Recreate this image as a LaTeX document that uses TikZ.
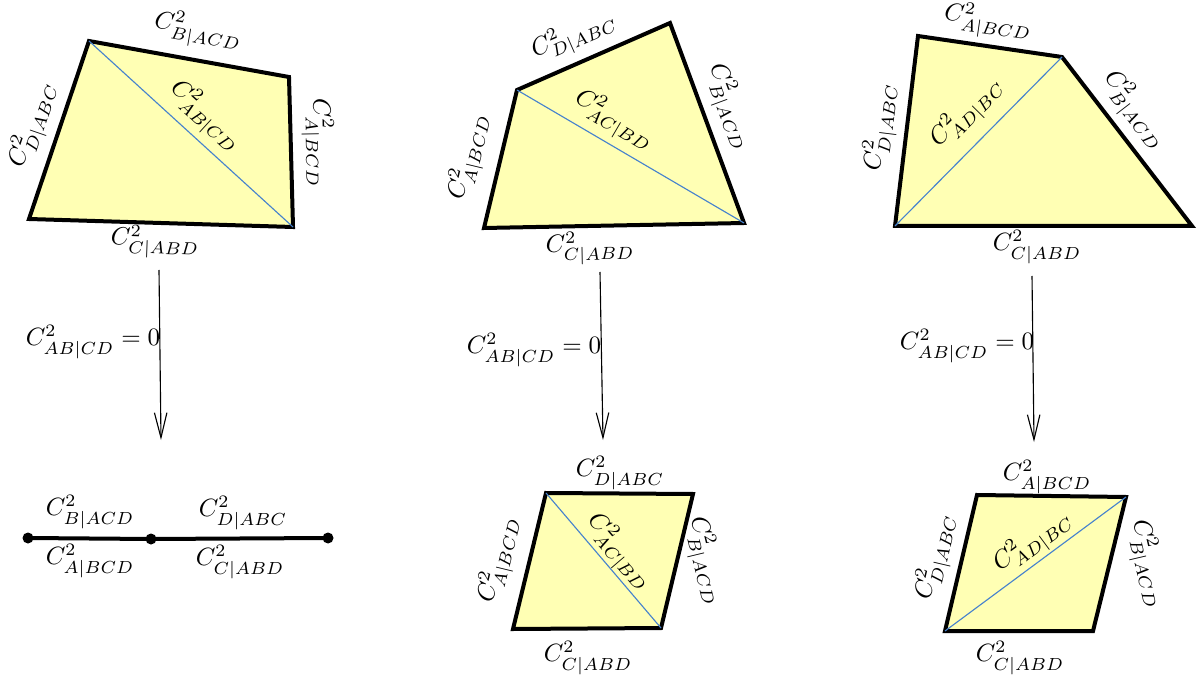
\documentclass[tikz,border=0pt]{standalone}
\usetikzlibrary{arrows.meta}
\definecolor{facefill}{RGB}{255,255,180}
\definecolor{diagblue}{RGB}{70,130,205}
\tikzset{
  face/.style={fill=facefill,draw=black,line width=1.6pt,line join=miter},
  diag/.style={draw=diagblue,line width=0.45pt},
  lbl/.style={inner sep=1pt},
  downarrow/.style={draw=black,line width=0.45pt,-{Straight Barb[length=10pt,width=5pt]}},
  segline/.style={draw=black,line width=1.6pt},
  dot/.style={circle,fill=black,inner sep=0pt,minimum size=4.4pt}
}
\begin{document}
\begin{tikzpicture}[x=0.4pt,y=-0.4pt]
\useasboundingbox (0,0) rectangle (1198,678);
% ---------- top left ----------
\coordinate (La) at (89,41);
\coordinate (Lb) at (289,77);
\coordinate (Lc) at (293,227);
\coordinate (Ld) at (29,219);
\path[face] (La) -- (Lb) -- (Lc) -- (Ld) -- cycle;
\draw[diag] (La) -- (Lc);
\node[lbl,rotate=-10] (L1) at (198,31) {$C^2_{B|ACD}$};
\node[lbl,rotate=71] (L2) at (33,125) {$C^2_{D|ABC}$};
\node[lbl,rotate=-89] (L3) at (318,143) {$C^2_{A|BCD}$};
\node[lbl,rotate=-42.5] (L4) at (205,116) {$C^2_{AB|CD}$};
\node[lbl,rotate=-2] (L5) at (155,242) {$C^2_{C|ABD}$};
% ---------- top middle ----------
\coordinate (Ma) at (517,90);
\coordinate (Mb) at (670,23);
\coordinate (Mc) at (744,223);
\coordinate (Md) at (484,228);
\path[face] (Ma) -- (Mb) -- (Mc) -- (Md) -- cycle;
\draw[diag] (Ma) -- (Mc);
\node[lbl,rotate=23.6] (M1) at (574,36) {$C^2_{D|ABC}$};
\node[lbl,rotate=-69.7] (M2) at (729,107) {$C^2_{B|ACD}$};
\node[lbl,rotate=76.5] (M3) at (469,157) {$C^2_{A|BCD}$};
\node[lbl,rotate=-30.4] (M4) at (614,120) {$C^2_{AC|BD}$};
\node[lbl,rotate=1] (M5) at (590,248) {$C^2_{C|ABD}$};
% ---------- top right ----------
\coordinate (Ra) at (918,36);
\coordinate (Rb) at (1062,57);
\coordinate (Rc) at (1192,226);
\coordinate (Rd) at (895,226);
\path[face] (Ra) -- (Rb) -- (Rc) -- (Rd) -- cycle;
\draw[diag] (Rd) -- (Rb);
\node[lbl,rotate=-8.3] (R1) at (988,22) {$C^2_{A|BCD}$};
\node[lbl,rotate=83] (R2) at (881,127) {$C^2_{D|ABC}$};
\node[lbl,rotate=-52.4] (R3) at (1134,110) {$C^2_{B|ACD}$};
\node[lbl,rotate=45.3] (R4) at (967,113) {$C^2_{AD|BC}$};
\node[lbl] (R5) at (1037,247) {$C^2_{C|ABD}$};
% ---------- arrows ----------
\coordinate (A1s) at (159,270);
\coordinate (A1e) at (161,440);
\draw[downarrow] (A1s) -- (A1e);
\node[lbl] (A1l) at (93,342) {$C^2_{AB|CD}=0$};
\coordinate (A2s) at (600,272);
\coordinate (A2e) at (603,440);
\draw[downarrow] (A2s) -- (A2e);
\node[lbl] (A2l) at (534,350) {$C^2_{AB|CD}=0$};
\coordinate (A3s) at (1032,276);
\coordinate (A3e) at (1034,442);
\draw[downarrow] (A3s) -- (A3e);
\node[lbl] (A3l) at (967,346) {$C^2_{AB|CD}=0$};
% ---------- bottom left segment ----------
\node[dot] (P1) at (28,538) {};
\node[dot] (P2) at (151,539) {};
\node[dot] (P3) at (328,538) {};
\draw[segline] (P1.center) -- (P2.center) -- (P3.center);
\node[lbl] (S1) at (90,512) {$C^2_{B|ACD}$};
\node[lbl] (S2) at (90,561) {$C^2_{A|BCD}$};
\node[lbl] (S3) at (243,513) {$C^2_{D|ABC}$};
\node[lbl] (S4) at (240,562) {$C^2_{C|ABD}$};
% ---------- bottom middle ----------
\coordinate (Na) at (546,493);
\coordinate (Nb) at (693,494);
\coordinate (Nc) at (661,628);
\coordinate (Nd) at (513,629);
\path[face] (Na) -- (Nb) -- (Nc) -- (Nd) -- cycle;
\draw[diag] (Na) -- (Nc);
\node[lbl] (N1) at (620,473) {$C^2_{D|ABC}$};
\node[lbl,rotate=76.4] (N2) at (499,560) {$C^2_{A|BCD}$};
\node[lbl,rotate=-76.4] (N3) at (705,561) {$C^2_{B|ACD}$};
\node[lbl,rotate=-49.4] (N4) at (619,552) {$C^2_{AC|BD}$};
\node[lbl] (N5) at (588,658) {$C^2_{C|ABD}$};
% ---------- bottom right ----------
\coordinate (Qa) at (977,495);
\coordinate (Qb) at (1126,497);
\coordinate (Qc) at (1093,631);
\coordinate (Qd) at (945,631);
\path[face] (Qa) -- (Qb) -- (Qc) -- (Qd) -- cycle;
\draw[diag] (Qd) -- (Qb);
\node[lbl] (Q1) at (1047,477) {$C^2_{A|BCD}$};
\node[lbl,rotate=76.9] (Q2) at (936,557) {$C^2_{D|ABC}$};
\node[lbl,rotate=-76.9] (Q3) at (1147,564) {$C^2_{B|ACD}$};
\node[lbl,rotate=36.5] (Q4) at (1033,542) {$C^2_{AD|BC}$};
\node[lbl] (Q5) at (1020,658) {$C^2_{C|ABD}$};
\end{tikzpicture}
\end{document}
